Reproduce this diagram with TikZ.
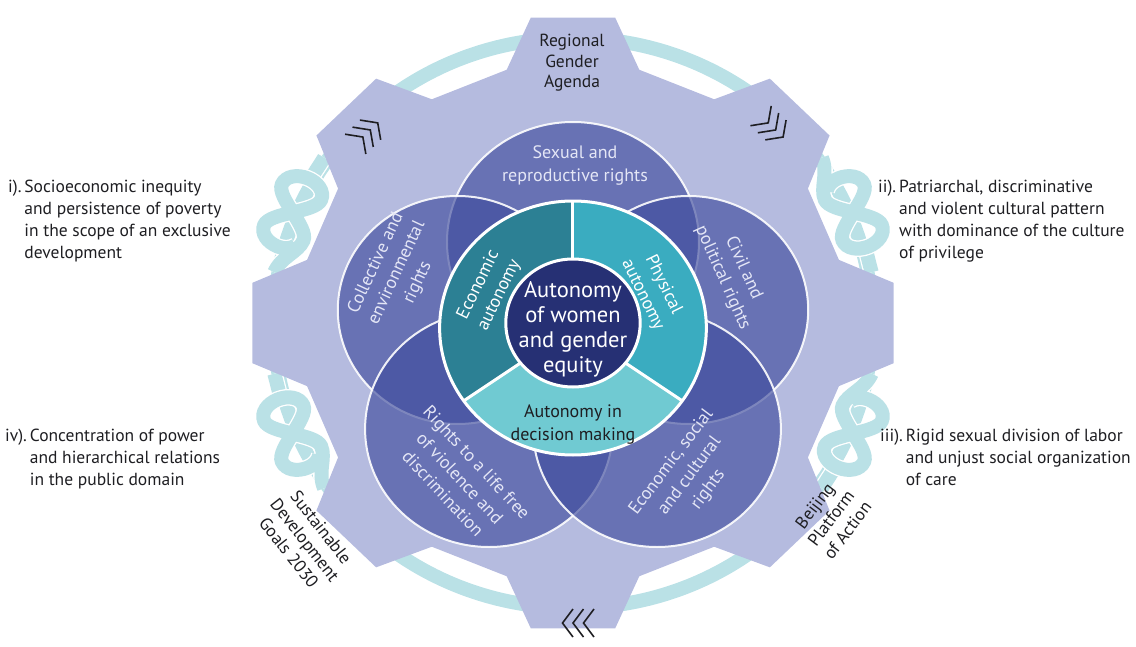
\documentclass[tikz,border=0pt]{standalone}
\usepackage{fontspec}
\setmainfont{PT Sans}

\definecolor{gearfill}{RGB}{181,187,223}
\definecolor{ropecol}{RGB}{186,225,230}
\definecolor{rightscol}{RGB}{63,76,157}
\definecolor{econcol}{RGB}{44,128,148}
\definecolor{physcol}{RGB}{58,172,192}
\definecolor{decicol}{RGB}{112,202,210}
\definecolor{corecol}{RGB}{38,48,116}
\definecolor{labelcol}{RGB}{228,230,246}
\definecolor{inkcol}{RGB}{30,30,34}

\begin{document}
\begin{tikzpicture}[x=1pt,y=1pt,
    rope/.style={draw=white,line width=1.3pt,double=ropecol,double distance=14pt},
    rights/.style={fill=rightscol,fill opacity=0.65,draw=white,draw opacity=0.9,line width=2pt},
    sidetext/.style={font=\fontsize{17.5}{22}\selectfont,text=inkcol,anchor=west,inner sep=0pt},
    gearlabel/.style={font=\fontsize{17.5}{20.5}\selectfont,text=inkcol,align=center},
    rightslabel/.style={font=\fontsize{18}{23}\selectfont,text=labelcol,align=center},
    autolabel/.style={font=\fontsize{18}{23}\selectfont,align=center}]
    \useasboundingbox (-573,-323) rectangle (563,323);
    \begin{scope}[xscale=1.05]
    % The rope running round behind the gear
    \draw[ropecol,line width=14pt] (0,0) circle (285);
    % Figure-eight knots tied in the rope between the side teeth
    \foreach \ang in {22.5,157.5,202.5,337.5} {
        \begin{scope}[shift={(\ang:289)},rotate=\ang-90,yscale=1.35]
            \draw[rope] (62,-5) .. controls (52,-4) and (45,-3) .. (36,-2);
            \draw[rope] (-62,-5) .. controls (-45,-5) and (-35,-15) .. (-22,-15)
                .. controls (-8,-15) and (8,15) .. (22,15)
                .. controls (31,15) and (37,8) .. (37,0)
                .. controls (37,-8) and (31,-15) .. (22,-15)
                .. controls (8,-15) and (-8,15) .. (-22,15)
                .. controls (-31,15) and (-37,8) .. (-37,0)
                .. controls (-37,-5) and (-34,-9) .. (-30,-11);
        \end{scope}
    }
    % Gear with eight teeth
    \fill[gearfill] (-14:261) \foreach \ang in {0,45,...,315} {
        -- (\ang-14:261) -- (\ang-7.5:308) -- (\ang+7.5:308) -- (\ang+14:261) } -- cycle;
    % Direction marks on three teeth
    \foreach \ang/\rad in {135/273,45/273,270/300} {
        \begin{scope}[shift={(\ang:\rad)},rotate=\ang-90]
            \foreach \k in {-1,0,1}
                \draw[inkcol,line width=1.6pt] (\k*10-10,14) -- (\k*10,0) -- (\k*10-10,-14);
        \end{scope}
    }
    % Five circles of rights
    \draw[rights] (0,81) circle (120);
    \draw[rights] (-110,13) circle (114);
    \draw[rights] (110,13) circle (114);
    \draw[rights] (-80,-106) circle (118);
    \draw[rights] (80,-106) circle (118);
    % Ring of the three autonomies
    \begin{scope}[shift={(0,-5)}]
        \fill[econcol] (0,0) -- (90:127) arc (90:215:127) -- cycle;
        \fill[physcol] (0,0) -- (-35:127) arc (-35:90:127) -- cycle;
        \fill[decicol] (0,0) -- (215:127) arc (215:325:127) -- cycle;
        \draw[white,line width=3pt] (0,0) circle (127);
        \foreach \ang in {90,215,325}
            \draw[white,line width=3pt] (0,0) -- (\ang:127);
    \end{scope}
    \draw[white,line width=3pt,fill=corecol] (0,0) circle (64);
    \end{scope}

    % Labels on the teeth
    \node[gearlabel] (regional) at (-1,260) {Regional\\Gender\\Agenda};
    \node[gearlabel,rotate=-52] (sdg) at (-268,-217) {Sustainable\\Development\\Goals 2030};
    \node[gearlabel,rotate=53] (beijing) at (258,-195) {Beijing\\Platform\\of Action};
    % Labels of the rights
    \node[rightslabel] (sexual) at (2,158) {Sexual and\\reproductive rights};
    \node[rightslabel,rotate=65] (collective) at (-176,50) {Collective and\\environmental\\rights};
    \node[rightslabel,rotate=-66] (civil) at (160,50) {Civil and\\political rights};
    \node[rightslabel,rotate=-47] (violence) at (-113,-155) {Rights to a life free\\of violence and\\discrimination};
    \node[rightslabel,rotate=53] (escr) at (117,-153) {Economic, social\\and cultural\\rights};
    % Labels of the autonomies
    \node[autolabel,text=white,rotate=64] (econ) at (-84,33) {Economic\\autonomy};
    \node[autolabel,text=white,rotate=-64] (phys) at (80,33) {Physical\\autonomy};
    \node[autolabel,text=inkcol] (decision) at (0,-102) {Autonomy in\\decision making};
    \node[autolabel,text=white,font=\fontsize{22.5}{25}\selectfont] (core) at (0,-6)
        {Autonomy\\of women\\and gender\\equity};
    % Notes on both sides
    \node[sidetext] (note1) at (-565,102) {\begin{tabular}{@{}l@{\,}l}i). & Socioeconomic inequity\\
        & and persistence of poverty\\ & in the scope of an exclusive\\ & development\end{tabular}};
    \node[sidetext] (note2) at (305,102) {\begin{tabular}{@{}l@{\,}l}ii). & Patriarchal, discriminative\\
        & and violent cultural pattern\\ & with dominance of the culture\\ & of privilege\end{tabular}};
    \node[sidetext] (note3) at (307,-136) {\begin{tabular}{@{}l@{\,}l}iii). & Rigid sexual division of labor\\
        & and unjust social organization\\ & of care\end{tabular}};
    \node[sidetext] (note4) at (-568,-136) {\begin{tabular}{@{}l@{\,}l}iv). & Concentration of power\\
        & and hierarchical relations\\ & in the public domain\end{tabular}};
\end{tikzpicture}
\end{document}
